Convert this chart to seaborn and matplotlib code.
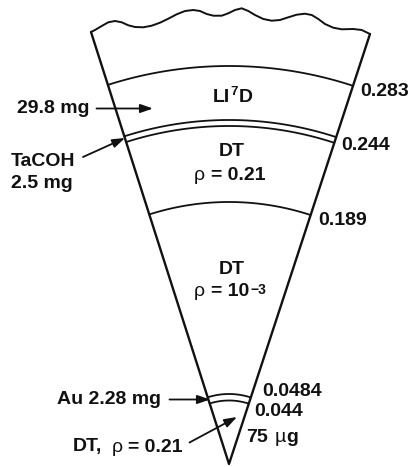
import numpy as np
import matplotlib
matplotlib.use('Agg')
import matplotlib.pyplot as plt
import seaborn as sns

# shell radii as labelled, and how far from the apex they are drawn (pixels)
shell_labels = ['0.283', '0.244', '0.189', '0.0484', '0.044']
shell_drawn = [398, 344, 338, 262, 70, 63.5]

apex = (229, 464)
left_top = (91, 32)
right_top = (370, 34)

# wavy cut across the top of the wedge
wave_x = [91, 95, 101.7, 108.3, 115, 121.7, 128.3, 135, 143.3, 151.7, 160, 168.3,
          176.7, 185, 193.3, 200, 206.7, 213.3, 221.7, 228.3, 235, 241.7, 248.3,
          255, 263.3, 271.7, 280, 288.3, 296.7, 305, 311.7, 318.3, 325, 333.3,
          341.7, 353.3, 361.7, 370]
wave_y = [32, 30, 26, 22.3, 21, 22.3, 25.3, 27, 27.3, 25.7, 22.7, 18.7, 14.3, 11,
          10, 11, 14, 15.7, 15.7, 13.3, 10, 8.3, 11, 15, 19, 20.7, 20, 17.3, 14.7,
          13.7, 15, 19, 24, 27.7, 29.3, 29, 30, 34]

sns.set_style('white')
plt.rcParams['font.family'] = ['Liberation Sans', 'DejaVu Sans']

fig = plt.figure(figsize=(4.11, 4.67), dpi=100)
ax = fig.add_axes([0, 0, 1, 1])


def draw(x, y, lw=1.5):
    sns.lineplot(x=x, y=y, sort=False, estimator=None, color='#111111',
                 linewidth=lw, legend=False, ax=ax)


draw([left_top[0], apex[0], right_top[0]], [left_top[1], apex[1], right_top[1]], 1.7)
draw(wave_x, wave_y, 1.4)

# arcs are centred on the apex
ang_l = np.arctan2(left_top[0] - apex[0], apex[1] - left_top[1])
ang_r = np.arctan2(right_top[0] - apex[0], apex[1] - right_top[1])
theta = np.linspace(ang_l, ang_r, 80)
for r in shell_drawn:
    draw(apex[0] + r * np.sin(theta), apex[1] - r * np.cos(theta), 1.3)

ax.set_xlim(0, 411)
ax.set_ylim(467, 0)
ax.axis('off')


def label(x, y, s, weight='bold', size=14, ha='left'):
    ax.text(x, y, s, fontsize=size, fontweight=weight, ha=ha, va='baseline', color='#111111')


def arrow(start, end):
    ax.annotate('', xy=end, xytext=start,
                arrowprops=dict(arrowstyle='-|>,head_length=0.75,head_width=0.26',
                                color='#111111', lw=1.3, shrinkA=0, shrinkB=0))


label(360.5, 96, shell_labels[0])
label(341.5, 150, shell_labels[1])
label(318, 225, shell_labels[2])
label(262, 395.5, shell_labels[3])
label(254, 416.5, shell_labels[4])
label(246.5, 442, '75')
label(275, 442, 'µ', weight='normal')
label(286, 442, 'g')

label(212.5, 101.5, 'LI')
label(230, 95, '7', size=9.5)
label(238.5, 101.5, 'D')

label(17, 113, '29.8 mg')
label(10.5, 166.5, 'TaCOH')
label(10.5, 188, '2.5 mg')

label(232, 156.5, 'DT', ha='center')
label(194, 180.5, 'ρ', weight='normal')
label(211, 180.5, '= 0.21')

label(231.5, 274.5, 'DT', ha='center')
label(194, 296, 'ρ', weight='normal')
label(210.5, 296, '= 10')
label(250.5, 294.5, '−3', size=10)

label(56.5, 404.5, 'Au 2.28 mg')
label(73, 451.5, 'DT,')
label(111.5, 451.5, 'ρ', weight='normal')
label(128, 451.5, '= 0.21')

arrow((96.5, 108.5), (153, 108.5))
arrow((83, 157), (125, 138))
arrow((169.5, 399.5), (210, 399.5))
arrow((189.5, 442.5), (237, 417))

fig.savefig('out.png', dpi=100)
